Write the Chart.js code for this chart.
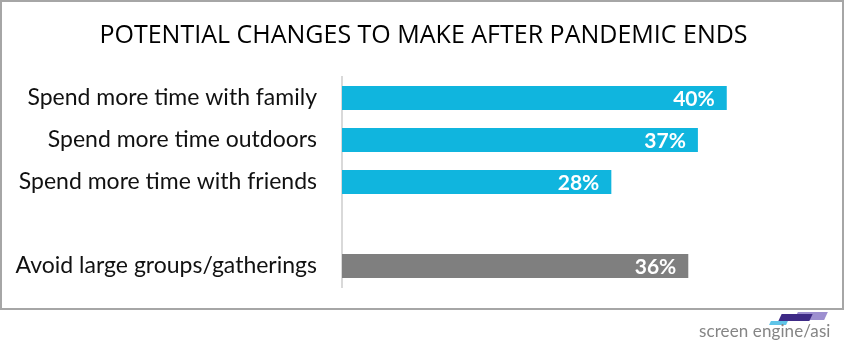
<!DOCTYPE html>
<html>
<head>
<meta charset="utf-8">
<script src="https://cdn.jsdelivr.net/npm/chart.js@4"></script>
<style>
  body { margin: 0; background: #fff; width: 847px; height: 347px; overflow: hidden; position: relative; }
  #frame { position: absolute; left: 0; top: 0; width: 840px; height: 306px; border: 2px solid #a6a6a6; }
  #chart { position: absolute; left: 0; top: 0; }
  .logo-text { position: absolute; left: 699px; top: 320px; font-family: Lato, "Open Sans", sans-serif; font-size: 17px; color: #858585; letter-spacing: 0.1px; }
  .shape { position: absolute; transform: skewX(-25deg); }
</style>
</head>
<body>
<div id="frame"></div>
<canvas id="chart" width="847" height="347"></canvas>
<div class="shape" style="left:796px; top:312px; width:30px; height:8px; background:#9d8fd0;"></div>
<div class="shape" style="left:780px; top:314px; width:31px; height:7px; background:#3e2a86;"></div>
<div class="shape" style="left:770px; top:321px; width:17px; height:4px; background:#5fc4e8;"></div>
<div class="logo-text">screen engine/asi</div>

<script>
// chart values
const categories = [
    "Spend more time with family",
    "Spend more time outdoors",
    "Spend more time with friends",
    "",
    "Avoid large groups/gatherings"
];
const percents = [40, 37, 28, null, 36];
const barColors = ["#10b5de", "#10b5de", "#10b5de", "#10b5de", "#7f7f7f"];

// white % labels at the end of each bar
const valueLabels = {
    id: "valueLabels",
    afterDatasetsDraw(chart) {
        let ctx = chart.ctx;
        let meta = chart.getDatasetMeta(0);
        ctx.save();
        ctx.font = "bold 21px Lato, 'Open Sans', sans-serif";
        ctx.fillStyle = "#ffffff";
        ctx.textAlign = "right";
        ctx.textBaseline = "middle";
        meta.data.forEach((bar, i) => {
            if (percents[i] == null) return;
            ctx.fillText(percents[i] + "%", bar.x - 12, bar.y + 1);
        });
        ctx.restore();
    }
};

new Chart(document.getElementById("chart"), {
    type: "bar",
    data: {
        labels: categories,
        datasets: [{
            data: percents,
            backgroundColor: barColors,
            categoryPercentage: 1,
            barPercentage: 0.57
        }]
    },
    options: {
        indexAxis: "y",
        responsive: false,
        animation: false,
        layout: { padding: { left: 0, right: 0, top: 0, bottom: 60 } },
        plugins: {
            legend: { display: false },
            tooltip: { enabled: false },
            title: {
                display: true,
                text: "POTENTIAL CHANGES TO MAKE AFTER PANDEMIC ENDS",
                color: "#000",
                font: { family: "'Liberation Sans Narrow', 'Open Sans', sans-serif", size: 25, weight: "normal", lineHeight: 1.2 },
                padding: { top: 21, bottom: 26 }
            }
        },
        scales: {
            x: {
                display: false,
                min: 0,
                max: 52.5
            },
            y: {
                afterFit(scale) { scale.width = 342; },
                grid: { display: false, drawTicks: false },
                border: { display: true, color: "#d9d9d9", width: 2 },
                ticks: {
                    padding: 25,
                    color: "#111",
                    font: { family: "Lato, 'Open Sans', sans-serif", size: 23 }
                }
            }
        }
    },
    plugins: [valueLabels]
});
</script>
</body>
</html>
